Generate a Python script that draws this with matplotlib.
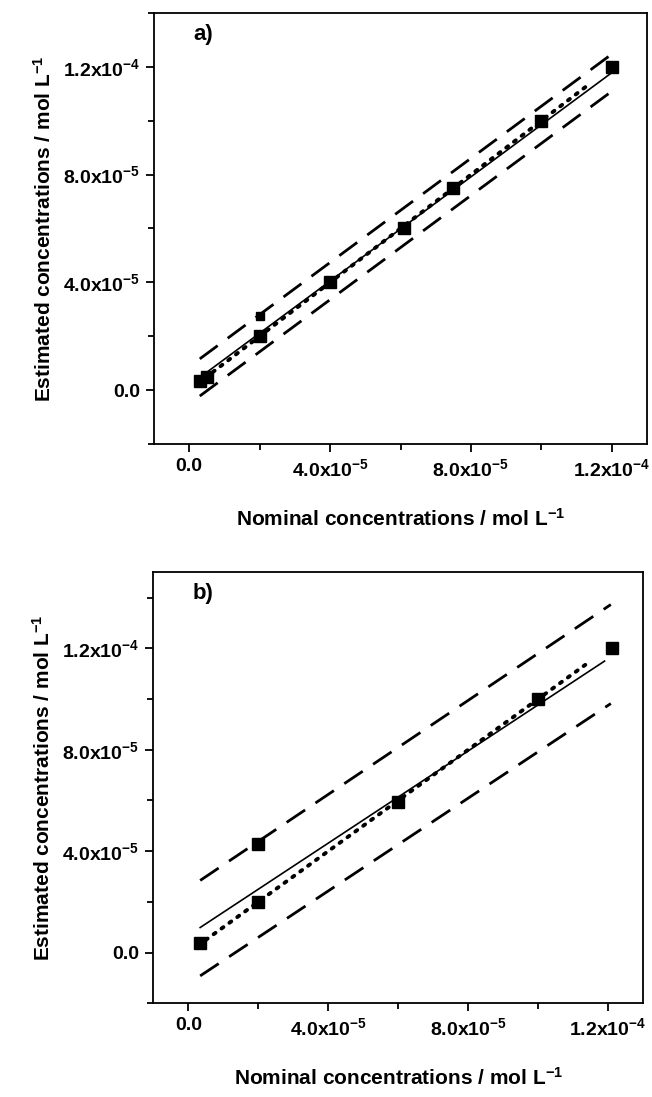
import numpy as np
import matplotlib
matplotlib.use("Agg")
import matplotlib.pyplot as plt
from matplotlib.ticker import MultipleLocator, FixedLocator

plt.rcParams['font.family'] = ['Liberation Sans', 'DejaVu Sans']
plt.rcParams['font.weight'] = 'bold'
plt.rcParams['mathtext.fontset'] = 'custom'
plt.rcParams['mathtext.rm'] = 'Liberation Sans:bold'
plt.rcParams['mathtext.it'] = 'Liberation Sans:bold'
plt.rcParams['mathtext.bf'] = 'Liberation Sans:bold'
plt.rcParams['mathtext.default'] = 'rm'

# ---- data (mol/L) ----
a_nominal = [0.3e-5, 0.5e-5, 2.0e-5, 4.0e-5, 6.1e-5, 7.5e-5, 10.0e-5, 12.0e-5]
a_estimated = [0.35e-5, 0.5e-5, 2.0e-5, 4.0e-5, 6.0e-5, 7.5e-5, 10.0e-5, 12.0e-5]
a_extra_nominal = [2.0e-5]
a_extra_estimated = [2.75e-5]

b_nominal = [0.34e-5, 2.0e-5, 2.0e-5, 6.0e-5, 10.0e-5, 12.1e-5]
b_estimated = [0.37e-5, 4.3e-5, 2.0e-5, 5.95e-5, 10.0e-5, 12.0e-5]

# fitted lines (slope, intercept)
a_fit = (0.967, 0.18e-5)
a_upper = (0.967, 0.87e-5)
a_lower = (0.967, -0.51e-5)
a_fit_range = (0.4e-5, 11.95e-5)
a_band_range = (0.3e-5, 12.05e-5)

b_fit = (0.909, 0.68e-5)
b_upper = (0.927, 2.53e-5)
b_lower = (0.915, -1.23e-5)
b_fit_range = (0.34e-5, 11.9e-5)
b_band_range = (0.34e-5, 12.08e-5)

ideal = (1.0, 0.0)
a_ideal_range = (0.45e-5, 11.3e-5)
b_ideal_range = (0.5e-5, 11.35e-5)

xticks_major = [0, 4e-5, 8e-5, 1.2e-4]
xtick_labels = ['0.0', '4.0x10$^{-5}$', '8.0x10$^{-5}$', '1.2x10$^{-4}$']

fig = plt.figure(figsize=(6.52, 10.97), dpi=100)
W, H = 652, 1097


def add_axes(l, r, t, b):
    return fig.add_axes([l / W, 1 - b / H, (r - l) / W, (b - t) / H])


ax_a = add_axes(154, 647, 13, 444)
ax_b = add_axes(153.3, 643, 572.3, 1003.3)


def line(ax, p, rng, **kw):
    x = np.linspace(rng[0], rng[1], 50)
    ax.plot(x, p[0] * x + p[1], **kw)


dash_kw = dict(color='black', lw=2.0, linestyle=(0, (8, 4.5)), dash_capstyle='butt')
dot_kw = dict(color='black', lw=2.8, linestyle=(0, (0.6, 1.9)), dash_capstyle='round')
solid_kw = dict(color='black', lw=1.2)


def style(ax, ylim, label):
    ax.set_xlim(-1e-5, 1.3e-4)
    ax.set_ylim(*ylim)
    ax.xaxis.set_major_locator(FixedLocator(xticks_major))
    ax.set_xticklabels(xtick_labels)
    ax.yaxis.set_major_locator(FixedLocator(xticks_major))
    ax.set_yticklabels(xtick_labels)
    ax.xaxis.set_minor_locator(MultipleLocator(2e-5))
    ax.yaxis.set_minor_locator(MultipleLocator(2e-5))
    ax.tick_params(which='major', direction='out', length=6, width=1.3, labelsize=14, pad=4)
    ax.tick_params(which='minor', direction='out', length=4, width=1.3)
    for s in ax.spines.values():
        s.set_linewidth(1.3)
    ax.set_xlabel('Nominal concentrations / mol L$^{-1}$', fontsize=15, fontweight='bold', labelpad=20)
    ax.set_ylabel('Estimated concentrations / mol L$^{-1}$', fontsize=15, fontweight='bold', labelpad=6)
    ax.text(0.08, 0.975, label, transform=ax.transAxes, fontsize=16, fontweight='bold', va='top', ha='left')


# panel a
line(ax_a, a_upper, a_band_range, **dash_kw)
line(ax_a, a_lower, a_band_range, **dash_kw)
line(ax_a, ideal, a_ideal_range, **dot_kw)
line(ax_a, a_fit, a_fit_range, **solid_kw)
ax_a.plot(a_nominal, a_estimated, 's', color='black', ms=9, zorder=5)
ax_a.plot(a_extra_nominal, a_extra_estimated, 's', color='black', ms=6, zorder=5)
style(ax_a, (-2e-5, 1.4e-4), 'a)')

# panel b
line(ax_b, b_upper, b_band_range, **dash_kw)
line(ax_b, b_lower, b_band_range, **dash_kw)
line(ax_b, ideal, b_ideal_range, **dot_kw)
line(ax_b, b_fit, b_fit_range, **solid_kw)
ax_b.plot(b_nominal, b_estimated, 's', color='black', ms=8.5, zorder=5)
style(ax_b, (-2e-5, 1.5e-4), 'b)')

fig.savefig('out.png', dpi=100)
